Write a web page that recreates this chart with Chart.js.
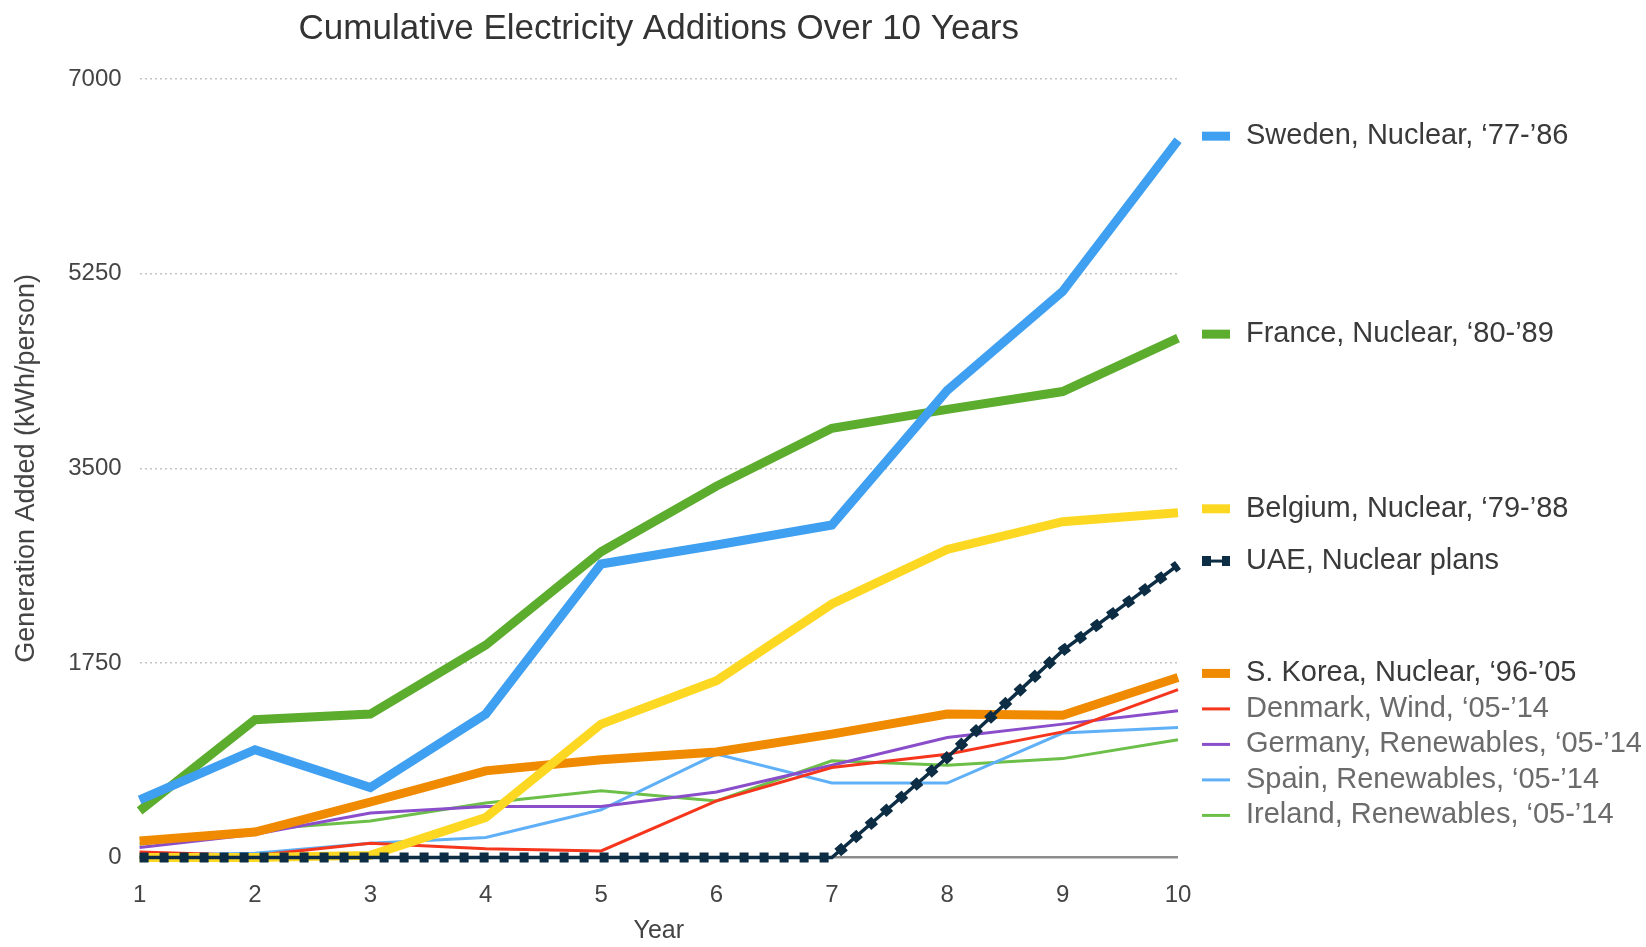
<!DOCTYPE html>
<html>
<head>
<meta charset="utf-8">
<script src="https://cdn.jsdelivr.net/npm/chart.js@4"></script>
<style>
  html, body { margin: 0; padding: 0; background: #fff; }
</style>
</head>
<body>
<canvas id="elecChart" width="1646" height="947"></canvas>
<script>
// years since start
const years = ['1', '2', '3', '4', '5', '6', '7', '8', '9', '10'];
const yTicks = [0, 1750, 3500, 5250, 7000];

// kWh/person added, cumulative
const sweden  = [520, 970, 630, 1290, 2640, 2810, 2990, 4200, 5090, 6450];
const france  = [420, 1240, 1290, 1910, 2750, 3340, 3860, 4030, 4190, 4670];
const belgium = [0, 0, 20, 360, 1200, 1590, 2280, 2770, 3020, 3100];
const uae     = [0, 0, 0, 0, 0, 0, 0, 900, 1860, 2630];
const korea   = [150, 230, 500, 780, 880, 950, 1110, 1290, 1280, 1620];
const denmark = [50, 20, 130, 80, 60, 510, 810, 930, 1130, 1510];
const germany = [90, 210, 400, 460, 460, 590, 830, 1080, 1200, 1320];
const spain   = [20, 40, 130, 180, 430, 930, 670, 670, 1120, 1170];
const ireland = [120, 250, 330, 490, 600, 510, 870, 830, 890, 1060];

const FONT = "'Liberation Sans', Arial, Helvetica, sans-serif";
const dark = '#3a3a3a';
const light = '#6b6b6b';

const ctx = document.getElementById('elecChart').getContext('2d');

const data = {
  labels: years,
  datasets: [
    { label: 'Sweden, Nuclear, \u201877-\u201986', data: sweden, borderColor: '#3f9ff0', borderWidth: 9, order: 2, textColor: dark },
    { label: 'France, Nuclear, \u201880-\u201989', data: france, borderColor: '#5cac2e', borderWidth: 9, order: 2, textColor: dark },
    { label: 'Belgium, Nuclear, \u201879-\u201988', data: belgium, borderColor: '#fdd823', borderWidth: 9, order: 2, textColor: dark },
    { label: 'UAE, Nuclear plans', data: uae, borderColor: '#0c2d44', borderWidth: 10, borderDash: [9, 11], order: 0, textColor: dark, legendBase: 3 },
    // thin line under the UAE squares
    { label: '', data: uae, borderColor: '#0c2d44', borderWidth: 3.5, order: 1, helper: true },
    { label: 'S. Korea, Nuclear, \u201896-\u201905', data: korea, borderColor: '#f08a00', borderWidth: 9, order: 2, textColor: dark },
    { label: 'Denmark, Wind, \u201805-\u201914', data: denmark, borderColor: '#f5361c', borderWidth: 3, order: 3, textColor: light },
    { label: 'Germany, Renewables, \u201805-\u201914', data: germany, borderColor: '#8a4ecb', borderWidth: 3, order: 3, textColor: light },
    { label: 'Spain, Renewables, \u201805-\u201914', data: spain, borderColor: '#5fb0f6', borderWidth: 3, order: 3, textColor: light },
    { label: 'Ireland, Renewables, \u201805-\u201914', data: ireland, borderColor: '#6cbf48', borderWidth: 3, order: 3, textColor: light }
  ]
};
data.datasets.forEach(d => { d.clip = false; });

// labels to the right of the line ends, pushed apart when they collide
const sideLegend = {
  id: 'sideLegend',
  afterDatasetsDraw(chart) {
    const {ctx, chartArea} = chart;
    const y = chart.scales.y;
    const items = chart.data.datasets
      .filter(d => !d.helper)
      .map(d => ({ d, ly: y.getPixelForValue(d.data[d.data.length - 1]) - 4 }));
    items.sort((a, b) => a.ly - b.ly);
    for (let i = 1; i < items.length; i++) {
      if (items[i].ly < items[i - 1].ly + 35.5) items[i].ly = items[i - 1].ly + 35.5;
    }
    const x0 = chartArea.right + 24, x1 = chartArea.right + 52;
    ctx.save();
    ctx.lineCap = 'butt';
    items.forEach(({ d, ly }) => {
      if (d.legendBase) {
        ctx.beginPath();
        ctx.setLineDash([]);
        ctx.lineWidth = d.legendBase;
        ctx.strokeStyle = d.borderColor;
        ctx.moveTo(x0, ly); ctx.lineTo(x1, ly); ctx.stroke();
      }
      ctx.beginPath();
      ctx.setLineDash(d.borderDash || []);
      ctx.lineWidth = d.borderWidth;
      ctx.strokeStyle = d.borderColor;
      ctx.moveTo(x0, ly); ctx.lineTo(x1, ly); ctx.stroke();
      ctx.setLineDash([]);
      ctx.fillStyle = d.textColor;
      ctx.font = '29px ' + FONT;
      ctx.textBaseline = 'middle';
      ctx.textAlign = 'left';
      ctx.fillText(d.label, chartArea.right + 68, ly);
    });
    ctx.restore();
  }
};

new Chart(ctx, {
  type: 'line',
  data: data,
  plugins: [sideLegend],
  options: {
    responsive: false,
    animation: false,
    layout: { padding: { left: 0, right: 468, top: 0, bottom: 0 } },
    elements: {
      point: { radius: 0, hoverRadius: 0 },
      line: { tension: 0, borderCapStyle: 'butt' }
    },
    scales: {
      x: {
        grid: { display: false },
        border: { display: false },
        ticks: { color: '#444', font: { family: FONT, size: 24 }, padding: 15, maxRotation: 0 },
        title: { display: true, text: 'Year', color: '#444', font: { family: FONT, size: 25 }, padding: { top: 0, bottom: 1 } },
        afterFit: scale => { scale.height = 89.4; }
      },
      y: {
        min: 0,
        max: 7000,
        afterBuildTicks: scale => { scale.ticks = yTicks.map(v => ({ value: v })); },
        grid: {
          drawTicks: false,
          color: c => c.tick.value === 0 ? '#8c8c8c' : '#c4c4c4',
          lineWidth: c => c.tick.value === 0 ? 2.5 : 1.5
        },
        border: {
          display: false,
          dash: c => c.tick && c.tick.value === 0 ? [] : [2, 3]
        },
        ticks: { color: '#444', font: { family: FONT, size: 24 }, padding: 18, callback: v => String(v) },
        title: { display: true, text: 'Generation Added (kWh/person)', color: '#444', font: { family: FONT, size: 27 }, padding: { top: 10, bottom: 0 } },
        afterFit: scale => { scale.width = 139.6; }
      }
    },
    plugins: {
      legend: { display: false },
      tooltip: { enabled: false },
      title: {
        display: true,
        fullSize: false,
        text: 'Cumulative Electricity Additions Over 10 Years',
        color: '#333',
        font: { family: FONT, size: 35, weight: 'normal' },
        padding: { top: 8, bottom: 29 }
      }
    }
  }
});
</script>
</body>
</html>
